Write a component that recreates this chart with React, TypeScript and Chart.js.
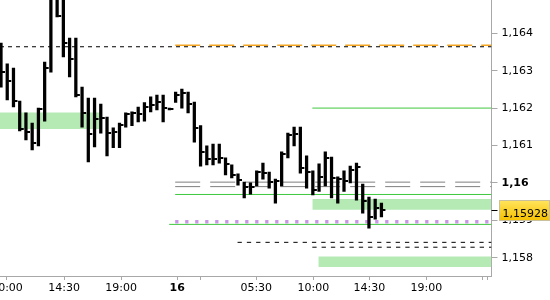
import React, { useEffect, useRef } from "react";
import { Chart, registerables } from "chart.js";

Chart.register(...registerables);

// ---- axes ranges ----
const X_MIN = -0.16;
const X_MAX = 78.65;
const Y_MIN = 1.15751;
const Y_MAX = 1.16489;

// ---- 30-minute bars (high / low / close) ----
const BAR_HIGH = [
  1.16374, 1.16318, 1.16307, 1.16219, 1.16187, 1.1616, 1.162, 1.16323, 1.16529, 1.16516,
  1.16497, 1.16387, 1.16387, 1.16256, 1.16227, 1.16227, 1.16211, 1.16176, 1.16147, 1.1616,
  1.16187, 1.1619, 1.16203, 1.16215, 1.1623, 1.16235, 1.16235, 1.162, 1.16243, 1.16251,
  1.16243, 1.16216, 1.16153, 1.16099, 1.16104, 1.16104, 1.16067, 1.16048, 1.16024, 1.16002,
  1.16, 1.16032, 1.16053, 1.16029, 1.1601, 1.16083, 1.16133, 1.16149, 1.16149, 1.16072,
  1.16032, 1.16051, 1.16083, 1.16069, 1.16016, 1.16032, 1.16045, 1.16053, 1.15997, 1.15962,
  1.15957, 1.15946,
];
const BAR_LOW = [
  1.16256, 1.16222, 1.16203, 1.16139, 1.16115, 1.16088, 1.16099, 1.16165, 1.16296, 1.16444,
  1.16337, 1.16283, 1.1623, 1.16149, 1.16056, 1.16096, 1.16133, 1.16072, 1.16094, 1.16094,
  1.16149, 1.16153, 1.16163, 1.16165, 1.1619, 1.16195, 1.16163, 1.16195, 1.16215, 1.162,
  1.16187, 1.16109, 1.16045, 1.16048, 1.16048, 1.16053, 1.16021, 1.16013, 1.15994, 1.1596,
  1.1597, 1.15992, 1.1601, 1.15986, 1.15946, 1.15992, 1.16067, 1.16099, 1.16026, 1.15986,
  1.15968, 1.15977, 1.15992, 1.1596, 1.15946, 1.15977, 1.16, 1.15954, 1.15919, 1.15879,
  1.15903, 1.15909,
];
const BAR_CLOSE = [
  1.16296, 1.16272, 1.16219, 1.16144, 1.16136, 1.16107, 1.16198, 1.16307, 1.16502, 1.16446,
  1.16374, 1.16331, 1.16235, 1.16187, 1.16131, 1.16171, 1.16173, 1.16133, 1.16136, 1.16155,
  1.16184, 1.16187, 1.16184, 1.16203, 1.16208, 1.16216, 1.162, 1.16198, 1.16235, 1.1624,
  1.16211, 1.16147, 1.16083, 1.16064, 1.16064, 1.16067, 1.16051, 1.16021, 1.16008, 1.15989,
  1.15989, 1.16029, 1.16026, 1.16002, 1.16005, 1.16077, 1.16128, 1.16131, 1.1604, 1.16029,
  1.15981, 1.16016, 1.16067, 1.16013, 1.1601, 1.16005, 1.16034, 1.16042, 1.15952, 1.15909,
  1.15933, 1.15928,
];
const CURRENT_PRICE = 1.15928;

// ---- horizontal levels (price, start position on the bar axis) ----
const LINE_PRICE = [1.16364, 1.16368, 1.162, 1.16002, 1.1599, 1.15969, 1.15896, 1.15889, 1.15841, 1.15828];
const LINE_FROM = [X_MIN, 27.93, 49.92, 27.93, 27.93, 27.93, 27.93, 26.97, 37.93, 49.92];

// ---- shaded zones ----
const ZONE_TOP = [1.16188, 1.15957, 1.15803];
const ZONE_BOTTOM = [1.16144, 1.15928, 1.15775];
const ZONE_FROM = [X_MIN, 49.92, 50.88];
const ZONE_TO = [15.89, X_MAX, X_MAX];

// ---- tick labels ----
const X_TICK_POS = [0.96, 10.11, 19.26, 28.25, 31.94, 40.93, 50.08, 59.07, 68.22, 77.21, 78.01];
const X_TICK_LABELS = ["10:00", "14:30", "19:00", "16", "", "05:30", "10:00", "14:30", "19:00", "", ""];
const Y_TICKS = [1.158, 1.159, 1.16, 1.161, 1.162, 1.163, 1.164, 1.165];
const Y_TICK_LABELS = ["1,158", "1,159", "1,16", "1,161", "1,162", "1,163", "1,164", "1,165"];

const FONT = "'DejaVu Sans', sans-serif";

// styles for the level lines (same order as LINE_PRICE)
const LINE_STYLE = [
  { color: "#000000", width: 1, dash: [4, 4] },
  { color: "#f5a623", width: 1.3, dash: [25, 9] },
  { color: "#3fc83f", width: 1, dash: [] },
  { color: "#7f7f7f", width: 1, dash: [25, 10] },
  { color: "#7f7f7f", width: 1, dash: [25, 10] },
  { color: "#3fc83f", width: 1, dash: [] },
  { color: "#c896e6", width: 3.3, dash: [3.3, 6.7] },
  { color: "#3fc83f", width: 1, dash: [] },
  { color: "#000000", width: 1, dash: [4.3, 5] },
  { color: "#000000", width: 1, dash: [4.3, 5] },
];

const zeroPad = () => ({ left: 0, top: 0, right: 0, bottom: 0 });

const priceLabelPlugin = {
  id: "priceLabel",
  afterDraw(chart: any) {
    const { ctx, chartArea, scales } = chart;
    const y = scales.y.getPixelForValue(CURRENT_PRICE);
    ctx.save();
    ctx.strokeStyle = "#000";
    ctx.lineWidth = 1;
    ctx.beginPath();
    ctx.moveTo(chartArea.right, Math.round(y) + 0.5);
    ctx.lineTo(chartArea.right + 6, Math.round(y) + 0.5);
    ctx.stroke();
    const bx = Math.round(chartArea.right + 7) + 0.5;
    const by = Math.round(y - 10) + 0.5;
    const bw = 50;
    const bh = 20;
    const g = ctx.createLinearGradient(0, by, 0, by + bh);
    g.addColorStop(0, "#ffe45c");
    g.addColorStop(1, "#f5c000");
    ctx.fillStyle = g;
    ctx.fillRect(bx, by, bw, bh);
    ctx.strokeStyle = "#c9c0a0";
    ctx.strokeRect(bx, by, bw, bh);
    ctx.fillStyle = "#000";
    ctx.font = "11px " + FONT;
    ctx.textBaseline = "alphabetic";
    ctx.textAlign = "left";
    ctx.fillText(CURRENT_PRICE.toFixed(5).replace(".", ","), bx + 3, y + 7);
    ctx.restore();
  },
};

export default function App() {
  const ref = useRef<HTMLCanvasElement>(null);

  useEffect(() => {
    const stub = document.createElement("canvas");
    stub.width = 10;
    stub.height = 2;
    const sctx = stub.getContext("2d")!;
    sctx.fillStyle = "#000";
    sctx.fillRect(6, 0, 3, 2);

    const datasets: any[] = [];

    datasets.push({
      type: "bar",
      data: BAR_HIGH.map((h, i) => ({ x: i, y: [BAR_LOW[i], h] })),
      backgroundColor: "#000",
      borderWidth: 0,
      barThickness: 2.6,
      grouped: false,
      order: 0,
    });
    datasets.push({
      type: "scatter",
      data: BAR_CLOSE.map((c, i) => ({ x: i, y: c })),
      pointStyle: stub,
      pointRadius: 5,
      order: -1,
    });
    LINE_PRICE.forEach((p, k) => {
      const s = LINE_STYLE[k];
      datasets.push({
        type: "line",
        data: [
          { x: LINE_FROM[k], y: p },
          { x: X_MAX, y: p },
        ],
        borderColor: s.color,
        borderWidth: s.width,
        borderDash: s.dash,
        borderCapStyle: "butt",
        pointRadius: 0,
        fill: false,
        order: 2,
      });
    });
    ZONE_TOP.forEach((t, k) => {
      datasets.push({
        type: "line",
        data: [
          { x: ZONE_FROM[k], y: t },
          { x: ZONE_TO[k], y: t },
        ],
        borderColor: "rgba(0,0,0,0)",
        borderWidth: 0,
        backgroundColor: "#b5eab5",
        fill: { value: ZONE_BOTTOM[k] },
        pointRadius: 0,
        order: 3,
      });
    });

    const chart = new Chart(ref.current!, {
      type: "bar",
      data: { datasets },
      options: {
        animation: false,
        responsive: true,
        maintainAspectRatio: false,
        layout: { padding: 0, autoPadding: false },
        plugins: { legend: { display: false }, tooltip: { enabled: false } },
        font: { family: FONT, size: 11 },
        scales: {
          x: {
            type: "linear",
            min: X_MIN,
            max: X_MAX,
            offset: false,
            grid: {
              display: true,
              offset: false,
              drawOnChartArea: false,
              drawTicks: true,
              tickLength: 4,
              color: "#a8a8a8",
            },
            border: { display: true, color: "#a8a8a8", width: 1 },
            afterBuildTicks: (scale: any) => {
              scale.ticks = X_TICK_POS.map((v) => ({ value: v }));
            },
            afterFit: (scale: any) => {
              scale.height = 24;
              scale.paddingLeft = 0;
              scale.paddingRight = 0;
              scale.paddingTop = 0;
              scale.paddingBottom = 0;
              scale.getPadding = zeroPad;
            },
            ticks: {
              autoSkip: false,
              maxRotation: 0,
              minRotation: 0,
              padding: 2,
              color: "#000",
              font: (ctx: any) => ({
                family: FONT,
                size: 11,
                weight: X_TICK_LABELS[ctx.index] === "16" ? "bold" : "normal",
              }),
              callback: (_v: any, i: number) => X_TICK_LABELS[i],
            },
          },
          y: {
            type: "linear",
            position: "right",
            min: Y_MIN,
            max: Y_MAX,
            beginAtZero: false,
            grid: {
              display: true,
              drawOnChartArea: false,
              drawTicks: true,
              tickLength: 6,
              color: "#a8a8a8",
            },
            border: { display: true, color: "#a8a8a8", width: 1 },
            afterBuildTicks: (scale: any) => {
              scale.ticks = Y_TICKS.map((v) => ({ value: v }));
            },
            afterFit: (scale: any) => {
              scale.width = 58.5;
              scale.paddingLeft = 0;
              scale.paddingRight = 0;
              scale.paddingTop = 0;
              scale.paddingBottom = 0;
              scale.getPadding = zeroPad;
            },
            ticks: {
              autoSkip: false,
              padding: 4,
              color: "#000",
              font: (ctx: any) => ({
                family: FONT,
                size: 11,
                weight: Y_TICK_LABELS[ctx.index] === "1,16" ? "bold" : "normal",
              }),
              callback: (_v: any, i: number) => Y_TICK_LABELS[i],
            },
          },
        },
      } as any,
      plugins: [priceLabelPlugin],
    });
    return () => chart.destroy();
  }, []);

  return (
    <div style={{ position: "fixed", left: 0, top: 0, width: 550, height: 300, background: "#fff" }}>
      <canvas ref={ref} />
    </div>
  );
}
